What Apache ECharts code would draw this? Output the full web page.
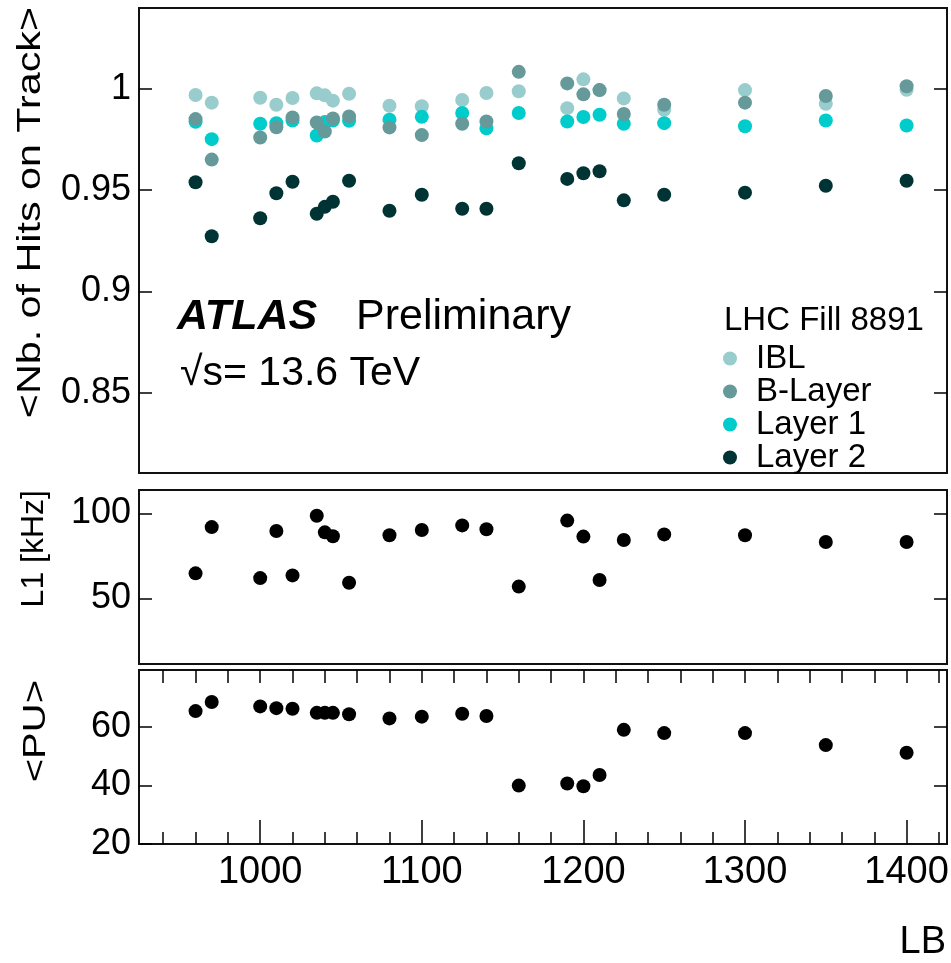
<!DOCTYPE html>
<html>
<head>
<meta charset="utf-8">
<script src="https://cdn.jsdelivr.net/npm/echarts@6/dist/echarts.min.js"></script>
<style>
html,body{margin:0;padding:0;background:#fff;}
#chart{width:951px;height:963px;}
</style>
</head>
<body>
<div id="chart"></div>
<script>
// ---- data ----
const lb = [960, 970, 1000, 1010, 1020, 1035, 1040, 1045, 1055, 1080, 1100, 1125, 1140, 1160, 1190, 1200, 1210, 1225, 1250, 1300, 1350, 1400];
const ibl    = [0.9969, 0.9931, 0.9955, 0.9921, 0.9954, 0.9977, 0.9967, 0.9941, 0.9975, 0.9916, 0.9913, 0.9944, 0.9979, 0.9987, 0.9904, 1.0046, 0.9993, 0.9952, 0.9896, 0.9993, 0.9926, 0.9995];
const bLayer = [0.9850, 0.9650, 0.9759, 0.9810, 0.9858, 0.9833, 0.9789, 0.9853, 0.9863, 0.9809, 0.9771, 0.9827, 0.9838, 1.0083, 1.0026, 0.9972, 0.9993, 0.9875, 0.9921, 0.9931, 0.9964, 1.0012];
const layer1 = [0.9837, 0.9751, 0.9827, 0.9830, 0.9843, 0.9769, 0.9835, 0.9843, 0.9842, 0.9847, 0.9861, 0.9880, 0.9804, 0.9880, 0.9838, 0.9860, 0.9871, 0.9827, 0.9830, 0.9815, 0.9843, 0.9818];
const layer2 = [0.9538, 0.9272, 0.9361, 0.9484, 0.9541, 0.9383, 0.9417, 0.9442, 0.9546, 0.9398, 0.9477, 0.9408, 0.9408, 0.9632, 0.9555, 0.9583, 0.9593, 0.9449, 0.9477, 0.9487, 0.9521, 0.9546];
const l1Rate = [64.7, 91.9, 61.9, 89.6, 63.5, 98.6, 88.8, 86.5, 59.2, 87.1, 90.2, 92.9, 90.6, 56.9, 95.7, 86.3, 60.8, 84.3, 87.6, 87.1, 83.1, 83.1];
const pileup = [65.3, 68.4, 66.9, 66.3, 66.1, 64.7, 64.7, 64.7, 64.2, 62.8, 63.4, 64.4, 63.6, 39.9, 40.6, 39.7, 43.5, 58.9, 57.8, 57.8, 53.7, 51.1];

const xMajorTicks = [1000, 1100, 1200, 1300, 1400];
const xMinorTicks = [940, 960, 980, 1000, 1020, 1040, 1060, 1080, 1100, 1120, 1140, 1160, 1180, 1200, 1220, 1240, 1260, 1280, 1300, 1320, 1340, 1360, 1380, 1400, 1420];
const hitsTicks = [0.85, 0.9, 0.95, 1];
const l1Ticks = [50, 100];
const puTicks = [20, 40, 60];

const seriesNames = ['IBL', 'B-Layer', 'Layer 1', 'Layer 2'];
const colors = {'IBL': '#99cccc', 'B-Layer': '#669999', 'Layer 1': '#00cccc', 'Layer 2': '#003333'};

// ---- chart ----
const FONT = '"Liberation Sans", Arial, Helvetica, sans-serif';
const X_MIN = 925, X_MAX = 1425;
const tickLine = {color: '#000', width: 1.5};
const plain = v => String(v);

function pairs(xs, ys) { return xs.map((x, i) => [x, ys[i]]); }

function hiddenX(gridIndex) {
  return {type: 'value', gridIndex, min: X_MIN, max: X_MAX, show: false};
}
function yPair(gridIndex, min, max, ticks, rightTicks) {
  return [
    {type: 'value', gridIndex, position: 'left', min, max,
     axisLine: {show: false}, splitLine: {show: false},
     axisTick: {show: true, inside: true, length: 13, lineStyle: tickLine, customValues: ticks},
     axisLabel: {show: true, margin: 8, color: '#000', fontSize: 36, fontFamily: FONT, customValues: ticks, formatter: plain}},
    {type: 'value', gridIndex, position: 'right', min, max,
     axisLine: {show: false}, splitLine: {show: false},
     axisTick: {show: true, inside: true, length: 13, lineStyle: tickLine, customValues: rightTicks || ticks},
     axisLabel: {show: false}}
  ];
}

const gridBase = {left: 139, width: 808, show: true, borderColor: '#111', borderWidth: 2,
                  backgroundColor: 'transparent', containLabel: false, outerBoundsMode: 'none'};

const option = {
  animation: false,
  backgroundColor: '#fff',
  grid: [
    Object.assign({top: 8, height: 465}, gridBase),
    Object.assign({top: 490, height: 174}, gridBase),
    Object.assign({top: 670, height: 174}, gridBase)
  ],
  xAxis: [
    hiddenX(0),
    hiddenX(1),
    {type: 'value', gridIndex: 2, min: X_MIN, max: X_MAX, position: 'bottom',
     axisLine: {show: false}, splitLine: {show: false},
     axisTick: {show: true, inside: true, length: 24, lineStyle: tickLine, customValues: xMajorTicks},
     axisLabel: {show: true, margin: 10, color: '#000', fontSize: 38, fontFamily: FONT, customValues: xMajorTicks, formatter: plain}},
    {type: 'value', gridIndex: 2, min: X_MIN, max: X_MAX, position: 'bottom',
     axisLine: {show: false}, splitLine: {show: false},
     axisTick: {show: true, inside: true, length: 12, lineStyle: tickLine, customValues: xMinorTicks},
     axisLabel: {show: false}},
    {type: 'value', gridIndex: 2, min: X_MIN, max: X_MAX, position: 'top',
     axisLine: {show: false}, splitLine: {show: false},
     axisTick: {show: true, inside: true, length: 13, lineStyle: tickLine, customValues: xMinorTicks},
     axisLabel: {show: false}}
  ],
  yAxis: [].concat(
    yPair(0, 0.8104, 1.0398, hitsTicks),
    yPair(1, 11.4, 113.7, l1Ticks),
    yPair(2, 20, 79.3, puTicks, [40, 60])
  ),
  legend: {
    data: seriesNames,
    orient: 'vertical',
    left: 718, top: 337,
    itemWidth: 42, itemHeight: 14, itemGap: 0,
    icon: 'circle',
    textStyle: {fontSize: 33, fontFamily: FONT, color: '#000', lineHeight: 31.3}
  },
  series: [
    {name: 'IBL', data: pairs(lb, ibl)},
    {name: 'Layer 1', data: pairs(lb, layer1)},
    {name: 'B-Layer', data: pairs(lb, bLayer)},
    {name: 'Layer 2', data: pairs(lb, layer2)}
  ].map(s => ({
    type: 'scatter', name: s.name, xAxisIndex: 0, yAxisIndex: 0,
    symbol: 'circle', symbolSize: 14, itemStyle: {color: colors[s.name], opacity: 1},
    data: s.data, silent: true
  })).concat([
    {type: 'scatter', name: 'L1', xAxisIndex: 1, yAxisIndex: 2, symbol: 'circle', symbolSize: 14,
     itemStyle: {color: '#000', opacity: 1}, data: pairs(lb, l1Rate), silent: true},
    {type: 'scatter', name: 'PU', xAxisIndex: 2, yAxisIndex: 4, symbol: 'circle', symbolSize: 14,
     itemStyle: {color: '#000', opacity: 1}, data: pairs(lb, pileup), silent: true}
  ]),
  graphic: [
    {type: 'text', x: 31, y: 7, rotation: Math.PI / 2, scaleX: 1.25,
     style: {text: '<Nb. of Hits on Track>', font: '33px ' + FONT, fill: '#000', align: 'right', verticalAlign: 'middle'}},
    {type: 'text', x: 34, y: 490, rotation: Math.PI / 2,
     style: {text: 'L1 [kHz]', font: '32px ' + FONT, fill: '#000', align: 'right', verticalAlign: 'middle'}},
    {type: 'text', x: 36, y: 680, rotation: Math.PI / 2, scaleX: 1.25,
     style: {text: '<PU>', font: '32px ' + FONT, fill: '#000', align: 'right', verticalAlign: 'middle'}},
    {type: 'text', x: 177, y: 317,
     style: {text: 'ATLAS', font: 'italic bold 43px ' + FONT, fill: '#000', align: 'left', verticalAlign: 'middle'}},
    {type: 'text', x: 356, y: 317,
     style: {text: 'Preliminary', font: '43px ' + FONT, fill: '#000', align: 'left', verticalAlign: 'middle'}},
    {type: 'text', x: 180, y: 374,
     style: {text: '√s= 13.6 TeV', font: '41px ' + FONT, fill: '#000', align: 'left', verticalAlign: 'middle'}},
    {type: 'text', x: 724, y: 321,
     style: {text: 'LHC Fill 8891', font: '33px ' + FONT, fill: '#000', align: 'left', verticalAlign: 'middle'}},
    {type: 'text', x: 946, y: 943,
     style: {text: 'LB', font: '38px ' + FONT, fill: '#000', align: 'right', verticalAlign: 'middle'}}
  ]
};

const chart = echarts.init(document.getElementById('chart'), null, {renderer: 'canvas'});
chart.setOption(option);
</script>
</body>
</html>
